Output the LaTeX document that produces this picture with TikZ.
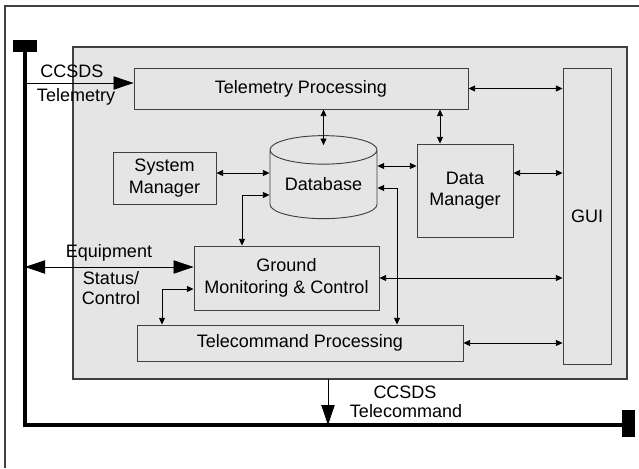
\documentclass[tikz,border=0pt]{standalone}
\usepackage{fontspec}
\setmainfont{Liberation Sans}
\usetikzlibrary{positioning}
\usetikzlibrary{arrows.meta}
\usetikzlibrary{shapes.geometric}
\usetikzlibrary{calc}
\definecolor{panel}{rgb}{0.9,0.9,0.9}
\definecolor{edge}{rgb}{0.25,0.25,0.25}

\begin{document}
\begin{tikzpicture}[x=0.75pt,y=-0.75pt,
  font=\fontsize{13.5}{16}\selectfont,
  block/.style={draw=edge, fill=panel, line width=0.7pt, align=center, inner sep=0pt},
  link/.style={line width=0.6pt, {Triangle[length=5pt,width=4.5pt]}-{Triangle[length=5pt,width=4.5pt]}},
  bigtip/.style={line width=0.6pt, -{Triangle[length=15pt,width=10pt]}},
  bigboth/.style={line width=0.6pt, {Triangle[length=15pt,width=10pt]}-{Triangle[length=15pt,width=10pt]}},
  bus/.style={line width=2.4pt},
  lbl/.style={inner sep=0pt},
]

  \useasboundingbox (0,0) rectangle (639,468);

  % frame and panel
  \draw[edge, line width=1pt] (5,468) -- (5,6) -- (639,6);
  \draw[edge, fill=panel, line width=0.9pt] (73,47) rectangle (627,379);

  % bus
  \coordinate (bustop) at (25,52);
  \coordinate (buscorner) at (25,425);
  \coordinate (busend) at (622,425);
  \fill (13,40) rectangle (37,52);
  \fill (622,410) rectangle (635,437);
  \draw[bus] (bustop) -- (buscorner) -- (busend);

  % blocks
  \node[block, minimum width=250.5pt, minimum height=30.75pt] (tmproc) at (301,88.5) {Telemetry Processing};
  \node[block, minimum width=36pt, minimum height=222pt] (gui) at (587,216) {GUI};
  \node[block, minimum width=72pt, minimum height=69.75pt] (dmgr) at (465,190.5) {Data\\Manager};
  \node[block, minimum width=77.25pt, minimum height=39pt] (smgr) at (164.5,178) {System\\Manager};
  \node[block, shape=cylinder, shape border rotate=90, aspect=0.37,
        minimum width=80.25pt, minimum height=62.25pt] (db) at (323.5,184.5) {Database};
  \node[block, minimum width=138.75pt, minimum height=48pt] (gmc) at (286.5,278) {Ground\\Monitoring \& Control};
  \node[block, minimum width=244.5pt, minimum height=27pt] (tcproc) at (300,343) {Telecommand Processing};

  % internal links
  \draw[link] (tmproc.east) -- (gui.west |- tmproc.east);
  \draw[link] ($(tmproc.south)+(139,0)$) -- ($(dmgr.north)+(-25,0)$);
  \draw[link] (tmproc.south -| db.north) -- ($(db.north)+(0,10)$);
  \draw[link] ($(db.east)+(0,-18.5)$) -- (dmgr.west |- {$(db.east)+(0,-18.5)$});
  \draw[link] ($(dmgr.east)+(0,-17.5)$) -- (gui.west |- {$(dmgr.east)+(0,-17.5)$});
  \draw[link] ($(smgr.east)+(0,-5)$) -- (db.west |- {$(smgr.east)+(0,-5)$});
  \draw[link] ($(gmc.north)+(-44.5,0)$) |- ($(db.west)+(0,10.5)$);
  \draw[link] ($(tcproc.north)+(97,0)$) |- ($(db.east)+(0,3.5)$);
  \draw[link] (gmc.east) -- (gui.west |- gmc.east);
  \draw[link] ($(gmc.west)+(0,11)$) -| ($(tcproc.north)+(-138,0)$);
  \draw[link] (tcproc.east) -- (gui.west |- tcproc.east);

  % external links
  \coordinate (tmin) at ($(tmproc.west)+(0,-5.5)$);
  \draw[bigtip] (tmin -| bustop) -- (tmin);
  \coordinate (eqio) at ($(gmc.west)+(0,-11)$);
  \draw[bigboth] (eqio -| bustop) -- (eqio);
  \coordinate (tcout) at (328,379);
  \draw[bigtip] (tcout) -- (tcout |- buscorner);

  % labels
  \node[lbl] (tmlbla) at (72,71) {CCSDS};
  \node[lbl] (tmlblb) at (76,97) {Telemetry};
  \node[lbl] (eqlbla) at (109,253) {Equipment};
  \node[lbl] (eqlblb) at (111,278) {Status/};
  \node[lbl] (eqlblc) at (111,298) {Control};
  \node[lbl] (tclbla) at (405,392) {CCSDS};
  \node[lbl] (tclblb) at (406,411) {Telecommand};

\end{tikzpicture}
\end{document}
